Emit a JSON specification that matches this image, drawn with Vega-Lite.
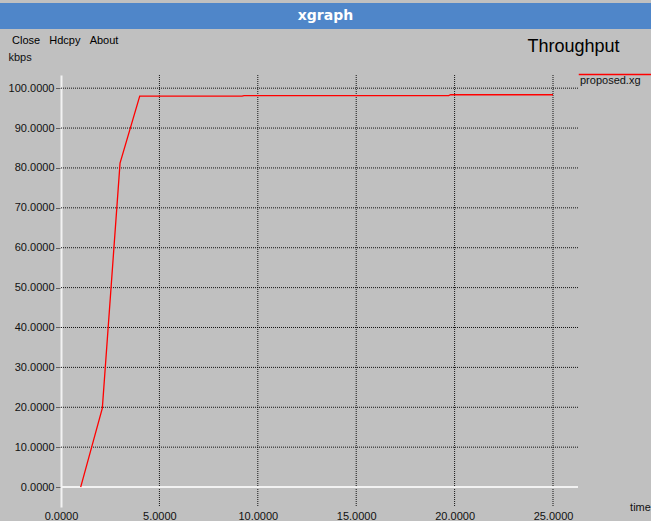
{
  "$schema": "https://vega.github.io/schema/vega-lite/v6.json",
  "background": "#c0c0c0",
  "padding": {"left": 0, "top": 3, "right": 0, "bottom": 0},
  "spacing": 6,
  "resolve": {"legend": {"color": "independent"}},
  "config": {
    "view": {"stroke": null},
    "font": "Liberation Sans",
    "axis": {
      "labelFont": "Liberation Sans",
      "labelFontSize": 11,
      "labelColor": "#111111",
      "titleFont": "Liberation Sans",
      "titleFontSize": 11,
      "titleFontWeight": "normal",
      "titleColor": "#111111"
    },
    "legend": {"labelFont": "Liberation Sans"}
  },
  "vconcat": [
    {
      "width": 651,
      "height": 26,
      "view": {"fill": "#4f86c9", "stroke": null},
      "data": {"values": [{"label": "xgraph"}]},
      "mark": {"type": "text", "color": "white", "fontWeight": "bold", "fontSize": 14, "font": "DejaVu Sans"},
      "encoding": {"text": {"field": "label"}}
    },
    {
      "width": 578,
      "height": 432,
      "title": {
        "text": "Close\u00a0\u00a0\u00a0Hdcpy\u00a0\u00a0\u00a0About",
        "anchor": "start",
        "frame": "group",
        "dx": 12,
        "offset": -9,
        "fontSize": 11,
        "fontWeight": "normal",
        "font": "Liberation Sans",
        "color": "#000000"
      },
      "layer": [
        {
          "data": {"values": [{"time": 5}, {"time": 10}, {"time": 15}, {"time": 20}, {"time": 25}]},
          "mark": {"type": "rule", "color": "#000000", "strokeDash": [1, 1], "strokeWidth": 1, "opacity": 0.9},
          "encoding": {
            "x": {"field": "time", "type": "quantitative", "axis": null, "scale": {"domain": [-3.1, 26.27], "nice": false, "zero": false}}
          }
        },
        {
          "data": {"values": [{"kbps": 10}, {"kbps": 20}, {"kbps": 30}, {"kbps": 40}, {"kbps": 50}, {"kbps": 60}, {"kbps": 70}, {"kbps": 80}, {"kbps": 90}, {"kbps": 100}]},
          "mark": {"type": "rule", "color": "#000000", "strokeDash": [1, 1], "strokeWidth": 1, "opacity": 0.9},
          "encoding": {
            "x": {"datum": 0, "type": "quantitative", "axis": null, "scale": {"domain": [-3.1, 26.27], "nice": false, "zero": false}},
            "x2": {"datum": 26.27},
            "y": {"field": "kbps", "type": "quantitative", "scale": {"domain": [-5, 103.3], "nice": false, "zero": false}}
          }
        },
        {
          "data": {"values": [{"time": 0, "time2": 26.27, "kbps": 0}]},
          "mark": {"type": "rule", "color": "#f2f2f2", "strokeWidth": 2},
          "encoding": {
            "x": {
              "field": "time",
              "type": "quantitative",
              "scale": {"domain": [-3.1, 26.27], "nice": false, "zero": false},
              "axis": {
                "orient": "top",
                "labels": false,
                "ticks": false,
                "domain": false,
                "grid": false,
                "title": "Throughput",
                "titleX": 619,
                "titleY": -29,
                "titleAlign": "right",
                "titleBaseline": "middle",
                "titleFontSize": 18,
                "titleFontWeight": "normal",
                "titleColor": "#000000"
              }
            },
            "x2": {"field": "time2"},
            "y": {
              "field": "kbps",
              "type": "quantitative",
              "scale": {"domain": [-5, 103.3], "nice": false, "zero": false}
            }
          }
        },
        {
          "data": {
            "values": [
              {"time": 1.0, "kbps": 0.0, "series": "proposed.xg"},
              {"time": 2.1, "kbps": 19.8, "series": "proposed.xg"},
              {"time": 3.0, "kbps": 81.2, "series": "proposed.xg"},
              {"time": 4.0, "kbps": 98.0, "series": "proposed.xg"},
              {"time": 5.0, "kbps": 98.0, "series": "proposed.xg"},
              {"time": 6.0, "kbps": 98.0, "series": "proposed.xg"},
              {"time": 7.0, "kbps": 98.0, "series": "proposed.xg"},
              {"time": 8.0, "kbps": 98.0, "series": "proposed.xg"},
              {"time": 9.2, "kbps": 98.0, "series": "proposed.xg"},
              {"time": 9.3, "kbps": 98.15, "series": "proposed.xg"},
              {"time": 12.0, "kbps": 98.15, "series": "proposed.xg"},
              {"time": 15.0, "kbps": 98.15, "series": "proposed.xg"},
              {"time": 19.7, "kbps": 98.15, "series": "proposed.xg"},
              {"time": 19.8, "kbps": 98.35, "series": "proposed.xg"},
              {"time": 22.0, "kbps": 98.35, "series": "proposed.xg"},
              {"time": 25.0, "kbps": 98.35, "series": "proposed.xg"}
            ]
          },
          "mark": {"type": "line", "strokeWidth": 1.3},
          "encoding": {
            "x": {
              "field": "time",
              "type": "quantitative",
              "scale": {"domain": [-3.1, 26.27], "nice": false, "zero": false},
              "axis": {
                "orient": "bottom",
                "values": [0, 5, 10, 15, 20, 25],
                "format": ".4f",
                "grid": false,
                "domain": false,
                "ticks": false,
                "labelPadding": 3,
                "title": "time",
                "titleX": 640,
                "titleY": 0,
                "titleAlign": "center",
                "titleBaseline": "middle"
              }
            },
            "y": {
              "field": "kbps",
              "type": "quantitative",
              "scale": {"domain": [-5, 103.3], "nice": false, "zero": false},
              "axis": {
                "offset": -61,
                "values": [0, 10, 20, 30, 40, 50, 60, 70, 80, 90, 100],
                "format": ".4f",
                "grid": false,
                "domain": true,
                "domainColor": "#f2f2f2",
                "domainWidth": 2,
                "ticks": true,
                "tickSize": 5,
                "tickColor": "#000000",
                "tickDash": [1, 1],
                "labelPadding": 2,
                "title": "kbps",
                "titleAngle": 0,
                "titleX": -53,
                "titleY": -18,
                "titleAlign": "left",
                "titleBaseline": "middle"
              }
            },
            "color": {
              "field": "series",
              "type": "nominal",
              "scale": {"range": ["#ff0000"]},
              "legend": {
                "orient": "none",
                "legendX": 578,
                "legendY": -38,
                "title": null,
                "padding": 0,
                "symbolType": "stroke",
                "symbolSize": 5400,
                "symbolStrokeWidth": 1.5,
                "labelOffset": -73,
                "labelBaseline": "top",
                "labelFontSize": 11,
                "labelColor": "#111111"
              }
            }
          }
        }
      ],
      "resolve": {"axis": {"x": "independent"}}
    }
  ]
}
